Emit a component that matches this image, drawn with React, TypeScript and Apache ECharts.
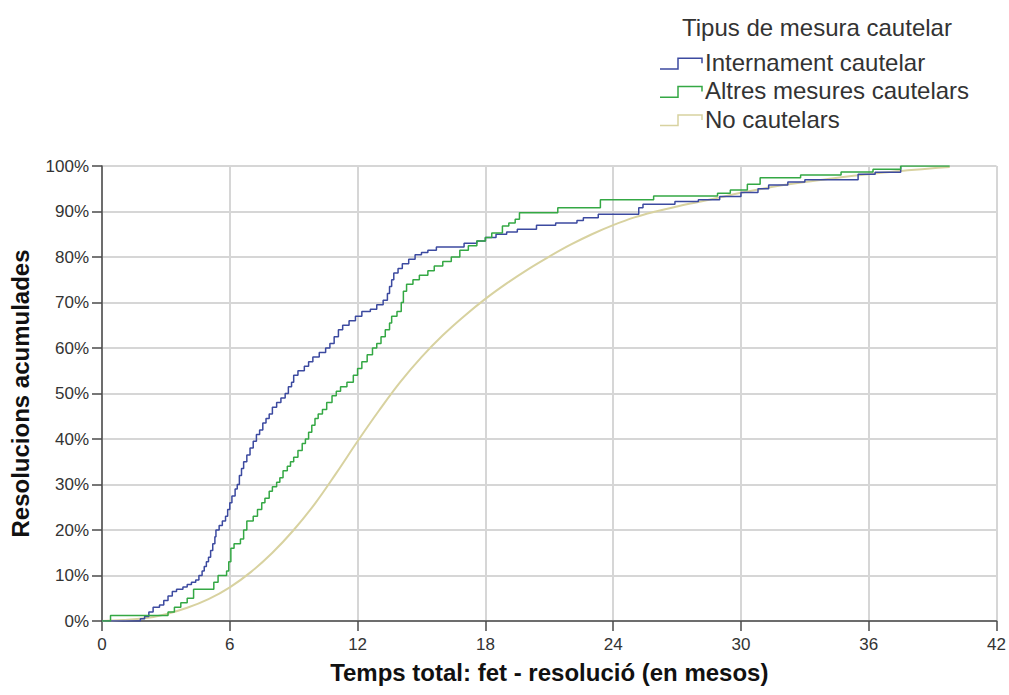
import React, { useEffect, useRef } from "react";
import * as echarts from "echarts";

const FONT = "'Liberation Sans', Arial, sans-serif";

const seriesNames = ["Internament cautelar", "Altres mesures cautelars", "No cautelars"];
const seriesColors = ["#3c4aa0", "#34a844", "#d8d2a0"];
const legendTitle = "Tipus de mesura cautelar";
const xTitle = "Temps total: fet - resolució (en mesos)";
const yTitle = "Resolucions acumulades";

// [month, cumulative %]
const internament: number[][] = [
  [0, 0], [1.8, 0.5], [2.0, 1], [2.2, 2], [2.4, 3], [2.7, 3.5], [2.9, 4.5], [3.1, 5.5], [3.3, 6.5],
  [3.5, 7], [3.8, 7.5], [4.0, 8], [4.2, 8.5], [4.4, 9], [4.55, 10], [4.7, 11], [4.8, 12], [4.9, 13],
  [5.0, 14], [5.1, 15.5], [5.2, 17], [5.3, 18.5], [5.35, 20], [5.5, 21], [5.65, 22], [5.8, 23],
  [5.9, 24.5], [6.0, 26], [6.1, 27.5], [6.25, 29], [6.35, 30], [6.45, 32], [6.55, 33.5], [6.65, 35],
  [6.8, 36.5], [6.95, 38], [7.1, 39.5], [7.25, 41], [7.4, 42], [7.55, 43.5], [7.7, 44.5], [7.85, 45.5],
  [8.0, 47], [8.2, 48], [8.4, 49], [8.6, 50], [8.75, 51.5], [8.9, 52.5], [9.0, 54], [9.2, 55],
  [9.5, 56], [9.7, 57], [9.9, 58], [10.2, 59], [10.5, 60], [10.7, 61], [10.9, 62.5], [11.1, 64],
  [11.3, 65], [11.6, 66], [11.9, 67], [12.2, 68], [12.6, 68.5], [12.9, 69.5], [13.2, 70.5],
  [13.4, 72], [13.5, 73.5], [13.6, 75], [13.7, 76.5], [13.9, 77.5], [14.1, 78.5], [14.4, 79.5],
  [14.7, 80.5], [15.0, 81], [15.3, 81.5], [15.7, 82.2], [17.0, 83], [17.6, 83.5], [18.0, 84.3],
  [18.5, 85], [19.0, 85.5], [19.5, 86.1], [20.4, 87], [21.3, 87.5], [22.3, 88], [22.6, 88.6],
  [23.3, 89.4], [25.2, 90.8], [25.4, 91.6], [26.9, 92.2], [28.0, 92.6], [29.0, 93.3], [30.0, 94.2],
  [30.8, 95], [31.3, 95.8], [32.2, 96.5], [33.0, 97], [35.5, 98.2], [36.3, 98.6], [37.5, 100]
];

const altres: number[][] = [
  [0, 0], [0.4, 1.2], [3.1, 2], [3.4, 3], [3.7, 4], [4.0, 5], [4.3, 7], [5.25, 8.5], [5.45, 10],
  [5.85, 11], [5.95, 13], [6.05, 16], [6.2, 17], [6.5, 18], [6.65, 20], [6.8, 22], [7.1, 23],
  [7.3, 24.5], [7.5, 26], [7.65, 27], [7.85, 28.5], [8.0, 29.5], [8.2, 30.5], [8.35, 31.5],
  [8.5, 33], [8.7, 34], [8.85, 35], [9.0, 36], [9.2, 37.5], [9.4, 39], [9.55, 40], [9.7, 41.5],
  [9.85, 43], [10.0, 44.5], [10.15, 45.5], [10.35, 46.5], [10.55, 48], [10.8, 49.5], [11.0, 50.5],
  [11.2, 51.5], [11.5, 52.5], [11.8, 54], [12.0, 55.5], [12.2, 57], [12.45, 58.5], [12.7, 60],
  [12.9, 61], [13.1, 62.5], [13.3, 64], [13.5, 65.5], [13.6, 67], [13.85, 68], [14.05, 70],
  [14.15, 72.5], [14.3, 74], [14.6, 75], [14.9, 76], [15.3, 77], [15.6, 78], [16.0, 79], [16.4, 80],
  [16.8, 81.5], [17.2, 82.5], [17.6, 83.5], [18.0, 84.3], [18.3, 85.3], [18.8, 86.8], [19.1, 87.5],
  [19.4, 88.3], [19.6, 89.7], [21.4, 90.8], [23.4, 92.6], [25.9, 93.4], [28.9, 94], [29.5, 94.7],
  [30.3, 96], [30.9, 97.4], [32.8, 98], [34.7, 98.7], [36.2, 99.3], [37.5, 100], [39.8, 100]
];

const noCautelars: number[][] = [
  [0, 0], [1, 0.2], [2, 0.6], [3, 1.5], [4, 2.9], [5, 4.8], [6, 7.4], [7, 10.8], [8, 15], [9, 20],
  [10, 25.8], [11, 32.5], [12, 39.5], [13, 46.2], [14, 52.5], [15, 58], [16, 62.8], [17, 67],
  [18, 70.8], [19, 74.2], [20, 77.3], [21, 80.1], [22, 82.7], [23, 85], [24, 87], [25, 88.7],
  [26, 90], [27, 91.1], [28, 92.1], [29, 93.1], [30, 94.1], [31, 95], [32, 95.8], [33, 96.5],
  [34, 97.1], [35, 97.7], [36, 98.2], [37, 98.7], [38, 99.1], [39, 99.5], [39.8, 99.8]
];

export default function App() {
  const ref = useRef<HTMLDivElement>(null);

  useEffect(() => {
    if (!ref.current) return;
    const chart = echarts.init(ref.current, null, { renderer: "svg" });

    const legendElems: any[] = [
      {
        type: "text",
        x: 682,
        y: 27,
        style: {
          text: legendTitle,
          font: `24px ${FONT}`,
          fill: "#333",
          align: "left",
          verticalAlign: "middle",
        },
      },
    ];
    seriesNames.forEach((name, i) => {
      const c = 62.5 + i * 28.3;
      legendElems.push({
        type: "polyline",
        shape: {
          points: [
            [660, c + 6.5],
            [678, c + 6.5],
            [678, c - 4.2],
            [702, c - 4.2],
            [702, c + 0.8],
          ],
        },
        style: { stroke: seriesColors[i], lineWidth: 1.5, fill: null },
      });
      legendElems.push({
        type: "text",
        x: 705,
        y: c,
        style: {
          text: name,
          font: `24px ${FONT}`,
          fill: "#333",
          align: "left",
          verticalAlign: "middle",
        },
      });
    });

    chart.setOption({
      animation: false,
      backgroundColor: "#fff",
      grid: { left: 101, right: 12, top: 166, bottom: 74, containLabel: false },
      xAxis: {
        type: "value",
        min: 0,
        max: 42,
        interval: 6,
        name: xTitle,
        nameLocation: "middle",
        nameGap: 39,
        nameTextStyle: { fontFamily: FONT, fontSize: 24, fontWeight: "bold", color: "#111" },
        axisLine: { show: true, lineStyle: { color: "#4a4a4a", width: 1.5 } },
        axisTick: { show: true, length: 10, lineStyle: { color: "#4a4a4a", width: 1.5 } },
        axisLabel: { margin: 15, fontFamily: FONT, fontSize: 17, color: "#333" },
        splitLine: { show: true, lineStyle: { color: "#d6d6d6", width: 2 } },
      },
      yAxis: {
        type: "value",
        min: 0,
        max: 100,
        interval: 10,
        name: yTitle,
        nameLocation: "middle",
        nameRotate: 90,
        nameGap: 70,
        nameTextStyle: { fontFamily: FONT, fontSize: 24, fontWeight: "bold", color: "#111" },
        axisLine: { show: true, lineStyle: { color: "#4a4a4a", width: 1.5 } },
        axisTick: { show: true, length: 10, lineStyle: { color: "#4a4a4a", width: 1.5 } },
        axisLabel: { margin: 13, fontFamily: FONT, fontSize: 17, color: "#333", formatter: "{value}%" },
        splitLine: { show: true, lineStyle: { color: "#d6d6d6", width: 2 } },
      },
      series: [
        {
          name: seriesNames[2],
          type: "line",
          data: noCautelars,
          smooth: 0.4,
          symbol: "none",
          lineStyle: { color: seriesColors[2], width: 2 },
          z: 2,
        },
        {
          name: seriesNames[0],
          type: "line",
          data: internament,
          step: "end",
          symbol: "none",
          lineStyle: { color: seriesColors[0], width: 1.5 },
          z: 3,
        },
        {
          name: seriesNames[1],
          type: "line",
          data: altres,
          step: "end",
          symbol: "none",
          lineStyle: { color: seriesColors[1], width: 1.5 },
          z: 4,
        },
      ],
      graphic: { elements: legendElems },
    });

    return () => chart.dispose();
  }, []);

  return (
    <div
      ref={ref}
      style={{ position: "absolute", left: 0, top: 0, width: 1009, height: 695, background: "#fff" }}
    />
  );
}
